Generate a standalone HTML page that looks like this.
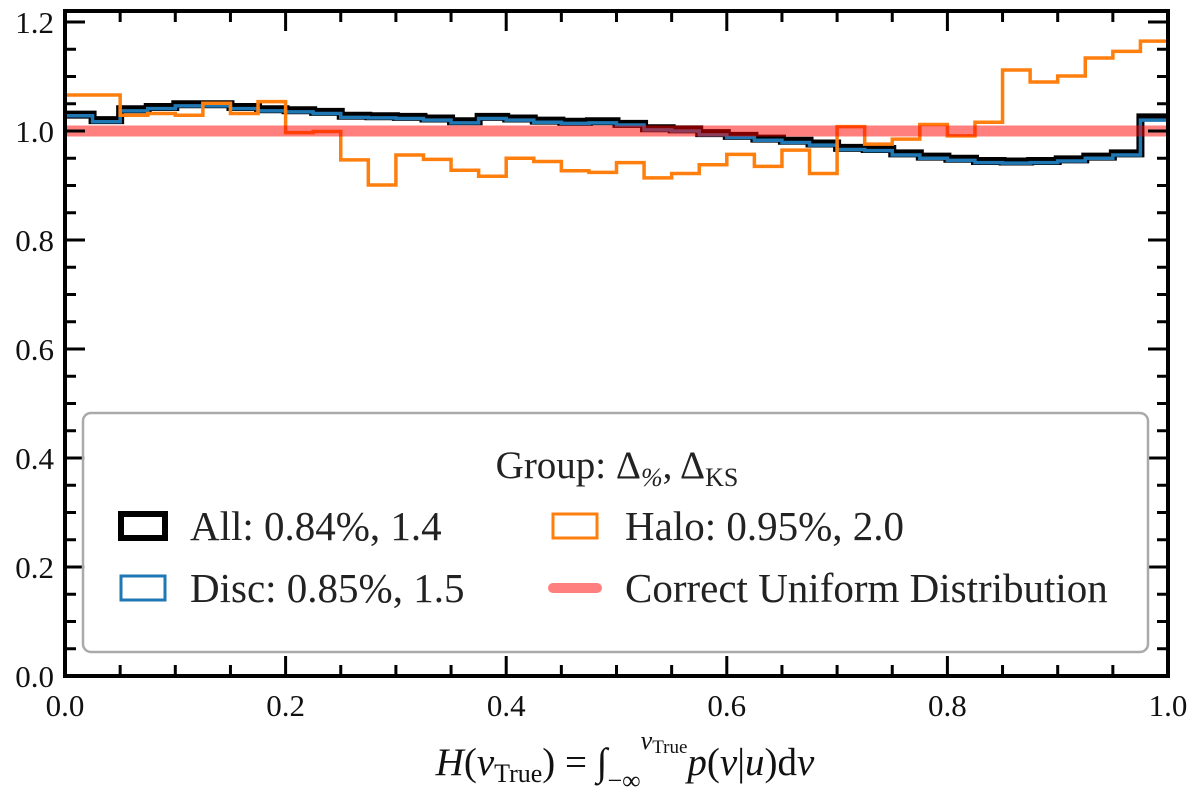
<!DOCTYPE html>
<html><head><meta charset="utf-8">
<style>
html,body{margin:0;padding:0;background:#fff;}
svg{display:block;font-family:"Liberation Serif","DejaVu Serif",serif;}
</style></head>
<body>
<svg id="chart" width="1200" height="806" viewBox="0 0 1200 806" xmlns="http://www.w3.org/2000/svg">
  <g id="plot"></g>
  <g id="axes"></g>
  <g id="legend">
    <rect x="83" y="413" width="1065" height="239" rx="8" fill="#fff" fill-opacity="0.85" stroke="#aaa" stroke-width="2.5"/>
    <text x="617" y="478" font-size="39" text-anchor="middle" fill="#222">Group: Δ<tspan font-style="italic" font-size="26" dy="8">%</tspan><tspan dy="-8">, Δ</tspan><tspan font-size="26" dy="8">KS</tspan></text>
    <g>
      <rect x="121" y="514" width="44" height="24" fill="none" stroke="#000" stroke-width="6"/>
      <text x="190" y="540" font-size="41" fill="#222">All:  0.84%, 1.4</text>
    </g>
    <g>
      <rect x="121" y="576" width="44" height="24" fill="none" stroke="#1f77b4" stroke-width="3"/>
      <text x="190" y="602" font-size="41" fill="#222">Disc: 0.85%, 1.5</text>
    </g>
    <g>
      <rect x="553" y="514" width="44" height="24" fill="none" stroke="#ff7f0e" stroke-width="3"/>
      <text x="625" y="540" font-size="41" fill="#222">Halo: 0.95%, 2.0</text>
    </g>
    <g>
      <line x1="553" y1="588" x2="597" y2="588" stroke="#ff0000" stroke-opacity="0.5" stroke-width="10" stroke-linecap="round"/>
      <text x="625" y="602" font-size="41" fill="#222">Correct Uniform Distribution</text>
    </g>
  </g>
  <text x="625" y="775" font-size="39" text-anchor="middle" fill="#111"><tspan font-style="italic">H</tspan>(<tspan font-style="italic">v</tspan><tspan font-size="26" dy="7">True</tspan><tspan dy="-7">) = ∫</tspan><tspan font-size="26" dy="14">−∞</tspan><tspan font-size="26" dy="-40" font-style="italic">v</tspan><tspan font-size="19" dy="4">True</tspan><tspan dy="22" font-style="italic">p</tspan>(<tspan font-style="italic">v</tspan>|<tspan font-style="italic">u</tspan>)d<tspan font-style="italic">v</tspan></text>
</svg>
<script>
const nBins = 40;
const allValues = [1.030,1.020,1.040,1.044,1.049,1.049,1.044,1.040,1.038,1.035,1.028,1.027,1.026,1.023,1.018,1.026,1.023,1.019,1.017,1.018,1.013,1.005,1.003,0.996,0.991,0.986,0.982,0.977,0.969,0.967,0.959,0.953,0.949,0.945,0.944,0.945,0.948,0.953,0.959,1.025];
const discValues = [1.028,1.017,1.037,1.041,1.046,1.046,1.041,1.037,1.035,1.032,1.025,1.024,1.023,1.020,1.015,1.023,1.020,1.016,1.014,1.015,1.011,1.002,1.000,0.993,0.988,0.983,0.979,0.974,0.966,0.964,0.956,0.950,0.946,0.942,0.941,0.942,0.945,0.950,0.956,1.020];
const haloValues = [1.066,1.066,1.029,1.032,1.029,1.051,1.032,1.054,0.997,0.999,0.947,0.901,0.956,0.948,0.928,0.917,0.950,0.944,0.927,0.924,0.942,0.914,0.922,0.938,0.957,0.935,0.965,0.922,1.008,0.976,0.985,1.012,0.991,1.016,1.112,1.090,1.101,1.134,1.146,1.165];
const uniformValue = [1.0];
const xTicks = [0.0,0.2,0.4,0.6,0.8,1.0];
const yTicks = [0.0,0.2,0.4,0.6,0.8,1.0,1.2];
const xTickLabels = ["0.0","0.2","0.4","0.6","0.8","1.0"];
const yTickLabels = ["0.0","0.2","0.4","0.6","0.8","1.0","1.2"];

const L=65,R=1168,T=11,B=676, yMax=(B-T)/545;
const sx=v=>L+v*(R-L);
const sy=v=>B-v/yMax*(B-T);
const NS="http://www.w3.org/2000/svg";
const plot=document.getElementById('plot'), axes=document.getElementById('axes');
function mk(tag,attrs,parent){const e=document.createElementNS(NS,tag);for(const k in attrs)e.setAttribute(k,attrs[k]);parent.appendChild(e);return e;}
function stepPath(vals){let d='';const w=1/vals.length;vals.forEach((v,i)=>{const x0=sx(i*w),x1=sx((i+1)*w),y=sy(v);d+=(i===0?`M${x0},${y}`:`L${x0},${y}`)+`L${x1},${y}`;});return d;}

const pAll=mk('path',{d:stepPath(allValues),fill:'none',stroke:'#000','stroke-width':8},plot);


const pDisc=mk('path',{d:stepPath(discValues),fill:'none',stroke:'#1f77b4','stroke-width':3.5},plot);


const pHalo=mk('path',{d:stepPath(haloValues),fill:'none',stroke:'#ff7f0e','stroke-width':3.5},plot);


const uni=mk('line',{x1:sx(0),x2:sx(1),y1:sy(uniformValue[0]),y2:sy(uniformValue[0]),stroke:'#ff0000','stroke-opacity':0.5,'stroke-width':11},plot);



for(let k=0;k<=20;k++){const v=k*0.05,x=sx(v),len=(k%4===0)?20:11;
  mk('line',{x1:x,x2:x,y1:B,y2:B-len,stroke:'#000','stroke-width':3},axes);
  mk('line',{x1:x,x2:x,y1:T,y2:T+len,stroke:'#000','stroke-width':3},axes);}
for(let k=0;k*0.05<=yMax;k++){const v=k*0.05,y=sy(v),len=(k%4===0)?20:11;
  mk('line',{x1:L,x2:L+len,y1:y,y2:y,stroke:'#000','stroke-width':3},axes);
  mk('line',{x1:R,x2:R-len,y1:y,y2:y,stroke:'#000','stroke-width':3},axes);}
xTicks.forEach((v,i)=>{const t=mk('text',{x:sx(v),y:716,'font-size':31,'text-anchor':'middle',fill:'#111'},axes);t.textContent=xTickLabels[i];
  
  });
yTicks.forEach((v,i)=>{const t=mk('text',{x:54,y:sy(v)+11,'font-size':31,'text-anchor':'end',fill:'#111'},axes);t.textContent=yTickLabels[i];
  
  });
const frame=mk('rect',{x:L,y:T,width:R-L,height:B-T,fill:'none',stroke:'#000','stroke-width':4},axes);


</script>
</body></html>
